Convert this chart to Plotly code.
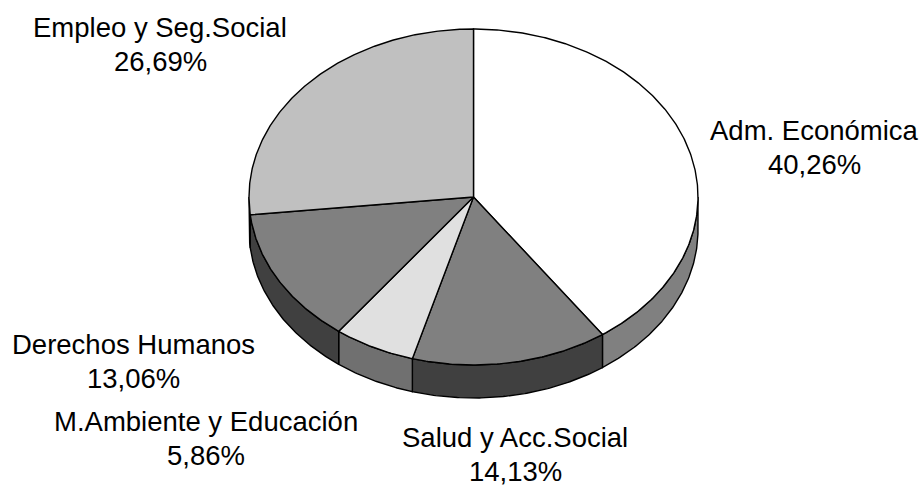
import numpy as np
import plotly.graph_objects as go

categories = ["Adm. Económica", "Salud y Acc.Social", "M.Ambiente y Educación", "Derechos Humanos", "Empleo y Seg.Social"]
values = [40.26, 14.13, 5.86, 13.06, 26.69]
value_labels = ["40,26%", "14,13%", "5,86%", "13,06%", "26,69%"]
top_colors = ["#ffffff", "#808080", "#e0e0e0", "#808080", "#c0c0c0"]
side_colors = ["#808080", "#404040", "#707070", "#404040", "#606060"]
label_xy = [(814, 130), (515, 437), (206, 421), (133, 344), (160, 27)]
LINE_PITCH = 34

CX, CY, RX, RY, DEPTH = 473.5, 197, 224.5, 168, 33
LINE = dict(color="#000000", width=1.4)
FIG_H = 487

def arc(a, b):
    n = max(int(abs(b - a) * 2), 2)
    t = np.radians(np.linspace(a, b, n))
    return CX + RX * np.sin(t), CY - RY * np.cos(t)

fig = go.Figure()
def poly(x, y, color):
    fig.add_trace(go.Scatter(x=list(x), y=list(y), mode="lines", fill="toself",
                             fillcolor=color, line=LINE, hoverinfo="skip", showlegend=False))

edges = np.concatenate([[0], np.cumsum(values) / sum(values) * 360])

# side walls (only the front half, from 90 to 270 degrees, is visible)
for i in range(len(values)):
    a, b = max(edges[i], 90), min(edges[i + 1], 270)
    if b > a:
        x, y = arc(a, b)
        poly(np.r_[x, x[::-1], x[0]], np.r_[y, y[::-1] + DEPTH, y[0]], side_colors[i])

# top faces
for i in range(len(values)):
    x, y = arc(edges[i], edges[i + 1])
    poly(np.r_[CX, x, CX], np.r_[CY, y, CY], top_colors[i])

FONT = dict(family="Liberation Sans", size=27.5, color="#000000")
for name, pct, (lx, ly) in zip(categories, value_labels, label_xy):
    fig.add_annotation(x=lx, y=ly, text=name, showarrow=False, font=FONT)
    fig.add_annotation(x=lx, y=ly + LINE_PITCH, text=pct, showarrow=False, font=FONT)

fig.update_layout(width=923, height=FIG_H, margin=dict(l=0, r=0, t=0, b=0),
                  paper_bgcolor="#ffffff", plot_bgcolor="#ffffff",
                  xaxis=dict(range=[0, 923], visible=False),
                  yaxis=dict(range=[FIG_H, 0], visible=False))
fig.write_html("out.html", config={"displayModeBar": False},
               post_script="document.body.style.margin='0';document.documentElement.style.overflow='hidden';")
